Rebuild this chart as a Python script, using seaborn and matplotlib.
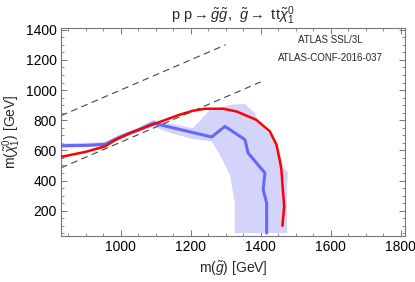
import matplotlib
matplotlib.use("Agg")
import matplotlib.pyplot as plt
from matplotlib.ticker import MultipleLocator
import pandas as pd
import seaborn as sns

# observed limit (red)
red_x = [830, 900, 955, 984, 1027, 1103, 1169, 1207, 1241, 1293, 1331, 1387, 1426, 1445, 1455, 1459, 1464, 1467, 1464, 1462]
red_y = [557, 590, 626, 668, 715, 781, 837, 863, 876, 876, 858, 803, 726, 638, 527, 472, 317, 229, 150, 100]

# expected limit (blue)
blue_x = [830, 900, 955, 1000, 1050, 1095, 1112, 1260, 1298, 1355, 1364, 1412, 1407, 1417, 1417]
blue_y = [631, 633, 640, 690, 735, 782, 770, 689, 759, 671, 583, 450, 339, 251, 52]

# expected +-1 sigma band (polygon outline)
band_x = [830, 955, 1000, 1050, 1093, 1150, 1207, 1255, 1321, 1355, 1383, 1397, 1445, 1464, 1478, 1475, 1475,
          1326, 1326, 1312, 1283, 1260, 1207, 1150, 1093, 1050, 1000, 955, 830]
band_y = [645, 655, 705, 750, 803, 775, 748, 869, 903, 908, 848, 770, 660, 494, 450, 361, 52,
          52, 251, 439, 572, 660, 675, 710, 757, 722, 675, 625, 617]

# kinematic lines
diag_x = [830, 1300]
offs_x = [830, 1400]
mtop2 = 346

sns.set_style("ticks")
plt.rcParams["font.family"] = ["Liberation Sans", "DejaVu Sans"]
plt.rcParams["mathtext.fontset"] = "custom"
plt.rcParams["mathtext.rm"] = "Liberation Sans"
plt.rcParams["mathtext.it"] = "Liberation Sans:italic"

fig = plt.figure(figsize=(4.15, 2.82), dpi=100)
ax = fig.add_axes([0.147, 0.163, 0.829, 0.738])

ax.fill(band_x, band_y, color="#d4d4fb", lw=0, zorder=1)

sns.lineplot(x=diag_x, y=diag_x, ax=ax, color="#444444", lw=0.8, zorder=2)
ax.lines[-1].set_linestyle((0, (6, 4)))
sns.lineplot(x=offs_x, y=[v - mtop2 for v in offs_x], ax=ax, color="#444444", lw=0.8, zorder=2)
ax.lines[-1].set_linestyle((0, (6, 4)))

blue = pd.DataFrame({"x": blue_x, "y": blue_y})
red = pd.DataFrame({"x": red_x, "y": red_y})
sns.lineplot(data=blue, x="x", y="y", sort=False, estimator=None, ax=ax, color="#6868f8", lw=2.2, zorder=3)
sns.lineplot(data=red, x="x", y="y", sort=False, estimator=None, ax=ax, color="#ff0000", lw=1.8, zorder=4)

ax.set_xlim(830, 1812)
ax.set_ylim(32, 1412)
ax.xaxis.set_major_locator(MultipleLocator(200))
ax.xaxis.set_minor_locator(MultipleLocator(50))
ax.yaxis.set_major_locator(MultipleLocator(200))
ax.yaxis.set_minor_locator(MultipleLocator(50))
ax.tick_params(which="both", direction="in", top=True, right=True, color="#777777",
               labelsize=10, labelcolor="black", pad=3)
ax.tick_params(which="major", length=4, width=0.7)
ax.tick_params(which="minor", length=2, width=0.6)
for s in ax.spines.values():
    s.set_color("#777777")
    s.set_linewidth(0.8)

ax.set_xlabel(r"m($\tilde{g}$) [GeV]", fontsize=10)
ax.set_ylabel(r"m($\tilde{\chi}_1^0$) [GeV]", fontsize=10, labelpad=2)
ax.set_title(r"p p$\rightarrow$$\tilde{g}\tilde{g}$,  $\tilde{g}$$\rightarrow$ tt$\tilde{\chi}_1^0$",
             fontsize=10.5, pad=6)

ax.text(1600, 1335, "ATLAS SSL/3L", fontsize=7, ha="center", va="center")
ax.text(1600, 1215, "ATLAS-CONF-2016-037", fontsize=7, ha="center", va="center")

plt.savefig("out.png", dpi=100)
plt.close()
